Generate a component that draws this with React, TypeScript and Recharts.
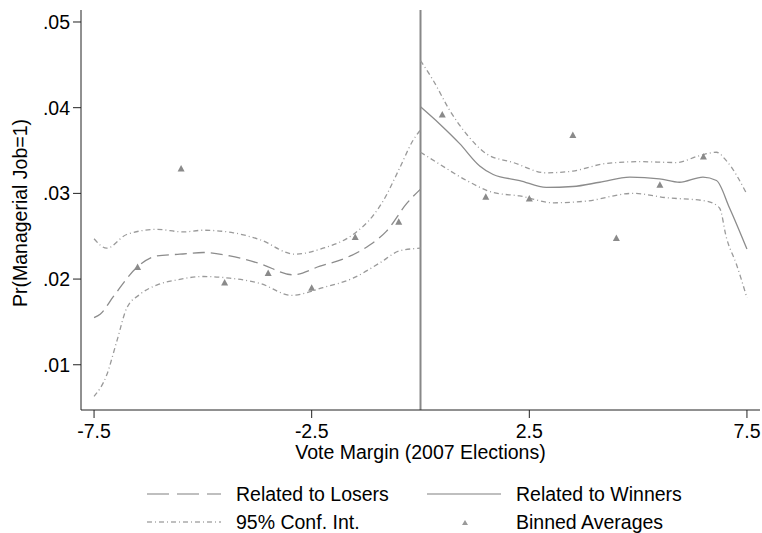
import React from "react";
import {
  ComposedChart,
  Line,
  Scatter,
  XAxis,
  YAxis,
  ReferenceLine,
} from "recharts";

// values
const losersFit = [
  { x: -7.5, y: 0.0155 }, { x: -7.36, y: 0.0159 }, { x: -7.05, y: 0.018 },
  { x: -6.51, y: 0.0214 }, { x: -6.06, y: 0.0227 }, { x: -5.53, y: 0.0229 },
  { x: -4.99, y: 0.0231 }, { x: -4.38, y: 0.0227 }, { x: -3.69, y: 0.0218 },
  { x: -2.93, y: 0.0205 }, { x: -2.31, y: 0.0215 }, { x: -1.7, y: 0.0225 },
  { x: -1.16, y: 0.024 }, { x: -0.78, y: 0.0256 }, { x: -0.32, y: 0.0288 },
  { x: 0, y: 0.0305 },
];
const losersUpper = [
  { x: -7.5, y: 0.0247 }, { x: -7.21, y: 0.0236 }, { x: -6.75, y: 0.0252 },
  { x: -6.06, y: 0.0258 }, { x: -5.45, y: 0.0255 }, { x: -4.99, y: 0.0257 },
  { x: -4.3, y: 0.0254 }, { x: -3.69, y: 0.0246 }, { x: -2.89, y: 0.0229 },
  { x: -2.24, y: 0.0236 }, { x: -1.55, y: 0.0252 }, { x: -1.09, y: 0.0274 },
  { x: -0.86, y: 0.0291 }, { x: -0.475, y: 0.033 }, { x: -0.17, y: 0.0362 },
  { x: 0, y: 0.0374 },
];
const losersLower = [
  { x: -7.5, y: 0.0063 }, { x: -7.21, y: 0.0088 }, { x: -6.98, y: 0.0127 },
  { x: -6.75, y: 0.0166 }, { x: -6.45, y: 0.0182 }, { x: -6.06, y: 0.0193 },
  { x: -5.6, y: 0.0199 }, { x: -4.99, y: 0.0203 }, { x: -4.38, y: 0.0201 },
  { x: -3.69, y: 0.0195 }, { x: -2.96, y: 0.0181 }, { x: -2.24, y: 0.019 },
  { x: -1.55, y: 0.0201 }, { x: -0.93, y: 0.0219 }, { x: -0.475, y: 0.0233 },
  { x: 0, y: 0.0236 },
];
const winnersFit = [
  { x: 0, y: 0.0401 }, { x: 0.44, y: 0.0381 }, { x: 0.9, y: 0.0358 },
  { x: 1.36, y: 0.0332 }, { x: 1.67, y: 0.0322 }, { x: 2.28, y: 0.0315 },
  { x: 2.89, y: 0.0307 }, { x: 3.5, y: 0.0308 }, { x: 4.12, y: 0.0313 },
  { x: 4.81, y: 0.0319 }, { x: 5.49, y: 0.0317 }, { x: 5.95, y: 0.0313 },
  { x: 6.49, y: 0.0319 }, { x: 6.8, y: 0.0315 }, { x: 7.1, y: 0.0283 },
  { x: 7.5, y: 0.0235 },
];
const winnersUpper = [
  { x: 0, y: 0.0455 }, { x: 0.29, y: 0.0432 }, { x: 0.67, y: 0.0397 },
  { x: 1.06, y: 0.0369 }, { x: 1.52, y: 0.0346 }, { x: 2.13, y: 0.0336 },
  { x: 2.89, y: 0.0324 }, { x: 3.5, y: 0.0326 }, { x: 4.27, y: 0.0335 },
  { x: 5.04, y: 0.0337 }, { x: 5.88, y: 0.0336 }, { x: 6.41, y: 0.0344 },
  { x: 6.8, y: 0.0348 }, { x: 7.03, y: 0.0338 }, { x: 7.5, y: 0.0299 },
];
const winnersLower = [
  { x: 0, y: 0.0348 }, { x: 0.44, y: 0.0334 }, { x: 1.06, y: 0.0315 },
  { x: 1.67, y: 0.0301 }, { x: 2.28, y: 0.0297 }, { x: 3.05, y: 0.0289 },
  { x: 3.81, y: 0.0291 }, { x: 4.88, y: 0.03 }, { x: 5.65, y: 0.0295 },
  { x: 6.57, y: 0.0291 }, { x: 6.87, y: 0.0283 }, { x: 7.03, y: 0.0248 },
  { x: 7.26, y: 0.0217 }, { x: 7.5, y: 0.0178 },
];
const binned = [
  { x: -6.5, y: 0.0214 }, { x: -5.5, y: 0.0329 }, { x: -4.5, y: 0.0196 },
  { x: -3.5, y: 0.0207 }, { x: -2.5, y: 0.019 }, { x: -1.5, y: 0.0249 },
  { x: -0.5, y: 0.0267 }, { x: 0.5, y: 0.0392 }, { x: 1.5, y: 0.0296 },
  { x: 2.5, y: 0.0294 }, { x: 3.5, y: 0.0368 }, { x: 4.5, y: 0.0248 },
  { x: 5.5, y: 0.031 }, { x: 6.5, y: 0.0343 },
];
const xTicks = [-7.5, -2.5, 2.5, 7.5];
const yTicks = [0.01, 0.02, 0.03, 0.04, 0.05];

const FIT = "#8c8c8c";
const CI = "#9a9a9a";
const CI_DASH = "5 3 1 3";
const LOSER_DASH = "12 6";
const FS = 19.5;

const Triangle = (props: any) => {
  const { cx, cy } = props;
  return (
    <polygon
      points={`${cx - 3.5},${cy + 3} ${cx + 3.5},${cy + 3} ${cx},${cy - 3.5}`}
      fill="#8a8a8a"
    />
  );
};

const fmtY = (v: number) => v.toFixed(2).replace(/^0/, "");

const LegendItem = ({ kind, label }: { kind: string; label: string }) => (
  <div style={{ display: "flex", alignItems: "center", height: 28 }}>
    <svg width={74} height={12} style={{ marginRight: 15 }}>
      {kind === "tri" ? (
        <polygon points="35,9 41,9 38,4" fill="#9a9a9a" />
      ) : (
        <line
          x1={0}
          x2={74}
          y1={6}
          y2={6}
          stroke="#aaa"
          strokeWidth={1.5}
          strokeDasharray={
            kind === "dash" ? "22 8" : kind === "ci" ? CI_DASH : undefined
          }
        />
      )}
    </svg>
    <span>{label}</span>
  </div>
);

export default function App() {
  return (
    <div
      style={{
        position: "absolute",
        left: 0,
        top: 0,
        width: 762,
        height: 533,
        background: "#fff",
        fontFamily: "'Liberation Sans', Arial, sans-serif",
      }}
    >
      <ComposedChart
        width={762}
        height={533}
        margin={{ top: 10, right: 2, left: 0, bottom: 0 }}
      >
        <XAxis
          dataKey="x"
          type="number"
          domain={[-7.8, 7.8]}
          ticks={xTicks}
          allowDataOverflow
          height={123}
          tickSize={8}
          tickMargin={6}
          stroke="#222"
          tick={{ fill: "#000", fontSize: FS }}
          tickFormatter={(v: number) => String(v)}
          label={(p: any) => {
            const vb = p.viewBox;
            return (
              <text
                x={vb.x + vb.width / 2}
                y={452}
                textAnchor="middle"
                dominantBaseline="central"
                fontSize={FS}
                fill="#000"
              >
                Vote Margin (2007 Elections)
              </text>
            );
          }}
        />
        <YAxis
          dataKey="y"
          type="number"
          domain={[0.00472, 0.0514]}
          ticks={yTicks}
          allowDataOverflow
          width={81}
          tickSize={8}
          tickMargin={3}
          stroke="#222"
          tick={{ fill: "#000", fontSize: FS }}
          tickFormatter={fmtY}
          label={(p: any) => {
            const vb = p.viewBox;
            const cy = vb.y + vb.height / 2 + 3;
            return (
              <text
                x={20}
                y={cy}
                transform={`rotate(-90 20 ${cy})`}
                textAnchor="middle"
                dominantBaseline="central"
                fontSize={FS}
                fill="#000"
              >
                Pr(Managerial Job=1)
              </text>
            );
          }}
        />
        <ReferenceLine x={0} stroke="#888" strokeWidth={2} />
        <Line data={losersUpper} dataKey="y" type="monotone" stroke={CI} strokeWidth={1.3} strokeDasharray={CI_DASH} dot={false} activeDot={false} isAnimationActive={false} />
        <Line data={losersLower} dataKey="y" type="monotone" stroke={CI} strokeWidth={1.3} strokeDasharray={CI_DASH} dot={false} activeDot={false} isAnimationActive={false} />
        <Line data={losersFit} dataKey="y" type="monotone" stroke={FIT} strokeWidth={1.3} strokeDasharray={LOSER_DASH} dot={false} activeDot={false} isAnimationActive={false} />
        <Line data={winnersUpper} dataKey="y" type="monotone" stroke={CI} strokeWidth={1.3} strokeDasharray={CI_DASH} dot={false} activeDot={false} isAnimationActive={false} />
        <Line data={winnersLower} dataKey="y" type="monotone" stroke={CI} strokeWidth={1.3} strokeDasharray={CI_DASH} dot={false} activeDot={false} isAnimationActive={false} />
        <Line data={winnersFit} dataKey="y" type="monotone" stroke={FIT} strokeWidth={1.3} dot={false} activeDot={false} isAnimationActive={false} />
        <Scatter data={binned} dataKey="y" shape={Triangle} isAnimationActive={false} />
      </ComposedChart>
      <div
        style={{
          position: "absolute",
          left: 147,
          top: 480,
          display: "grid",
          gridTemplateColumns: "280px 280px",
          fontSize: FS,
          color: "#000",
        }}
      >
        <LegendItem kind="dash" label="Related to Losers" />
        <LegendItem kind="solid" label="Related to Winners" />
        <LegendItem kind="ci" label="95% Conf. Int." />
        <LegendItem kind="tri" label="Binned Averages" />
      </div>
    </div>
  );
}
